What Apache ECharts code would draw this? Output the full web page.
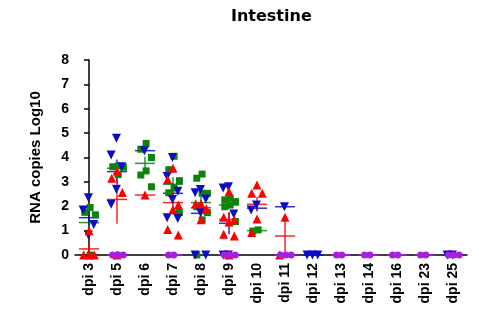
<!DOCTYPE html>
<html>
<head>
<meta charset="utf-8">
<script src="https://cdn.jsdelivr.net/npm/echarts@6/dist/echarts.min.js"></script>
<style>
  html, body { margin: 0; padding: 0; background: #fff; }
  #main { width: 479px; height: 314px; }
</style>
</head>
<body>
<div id="main"></div>
<script>
var categories = ['dpi 3', 'dpi 5', 'dpi 6', 'dpi 7', 'dpi 8', 'dpi 9', 'dpi 10', 'dpi 11', 'dpi 12', 'dpi 13', 'dpi 14', 'dpi 16', 'dpi 23', 'dpi 25'];
var yTicks = [0, 1, 2, 3, 4, 5, 6, 7, 8];

// individual values, one list per category
var redPoints = [[1.0, 0, 0, 0], [3.45, 3.15, 2.56, 0], [2.46], [3.56, 3.1, 2.05, 1.87, 1.05, 0.82], [2.1, 2.1, 1.9, 1.45], [2.6, 1.55, 1.45, 1.35, 0.85, 0.78, 0], [2.87, 2.53, 2.53, 1.48, 0.92], [1.55, 0], [], [], [], [], [], []];
var greenPoints = [[1.95, 1.75, 1.65, 0], [3.65, 3.62, 3.6, 3.3], [4.58, 4.34, 4.0, 3.45, 3.28, 2.8], [4.05, 3.5, 3.05, 2.75, 2.55, 1.74], [3.32, 3.15, 2.53, 2.53, 1.98, 1.74, 1.44, 0], [2.33, 2.26, 2.19, 2.05, 1.98, 1.37], [1.03, 0.98], [], [], [], [], [], [], []];
var bluePoints = [[2.35, 1.85, 1.25, 0.82], [4.79, 4.1, 3.62, 2.7, 2.08], [4.28], [4.0, 3.22, 2.62, 2.28, 1.53, 1.5], [2.69, 2.55, 2.3, 1.74, 0, 0], [2.8, 2.75, 1.68, 0, 0], [2.05, 1.85], [1.98], [0, 0, 0], [], [], [], [], [0, 0]];
var purplePoints = [[], [0, 0, 0, 0], [], [0, 0], [], [0, 0, 0], [], [0, 0, 0], [], [0, 0], [0, 0], [0, 0], [0, 0], [0, 0, 0]];

// mean and error bar half-length per category (null = no group)
var redMean = [0.25, 2.28, 2.46, 2.15, 1.94, 1.46, 2.08, 0.78, null, null, null, null, null, null];
var redErr = [0.25, 1.0, 0, 0.5, 0.15, 0.3, 0.3, 0.78, 0, 0, 0, 0, 0, 0];
var greenMean = [1.33, 3.56, 3.76, 2.9, 2.15, 2.05, 1.0, null, null, null, null, null, null, null];
var greenErr = [0.45, 0.1, 0.27, 0.3, 0.35, 0.15, 0.03, 0, 0, 0, 0, 0, 0, 0];
var blueMean = [1.53, 3.42, 4.28, 2.53, 1.71, 1.3, 1.92, 1.98, 0, null, null, null, null, 0];
var blueErr = [0.3, 0.5, 0, 0.4, 0.4, 0.45, 0.1, 0, 0, 0, 0, 0, 0, 0];
var purpleMean = [null, 0, null, 0, null, 0, null, 0, null, 0, 0, 0, 0, 0];
var purpleErr = [0, 0, 0, 0, 0, 0, 0, 0, 0, 0, 0, 0, 0, 0];

var RED = '#ff0000', GREEN = '#0a850a', BLUE = '#0c0cc4', PURPLE = '#a81fe0';

// spread points of one category in three little columns
function spread(points, shift) {
    var out = [];
    points.forEach(function (vals, i) {
        vals.forEach(function (v, k) {
            var col = [0, -1, 1][k % 3];
            out.push([i + col * 0.19 + shift, v]);
        });
    });
    return out;
}

function meanData(mean, err) {
    var out = [];
    mean.forEach(function (m, i) {
        if (m !== null) out.push([i, m, err[i]]);
    });
    return out;
}

function meanSeries(mean, err, color) {
    return {
        type: 'custom',
        xAxisIndex: 1,
        clip: false,
        silent: true,
        z: 3,
        data: meanData(mean, err),
        renderItem: function (params, api) {
            var x = api.value(0), m = api.value(1), e = api.value(2);
            var l = api.coord([x - 0.36, m]), r = api.coord([x + 0.36, m]);
            var t = api.coord([x, m + e]), b = api.coord([x, m - e]);
            var st = { stroke: color, lineWidth: 1.5, opacity: 0.85 };
            return {
                type: 'group',
                children: [
                    { type: 'line', shape: { x1: l[0], y1: l[1], x2: r[0], y2: r[1] }, style: st },
                    { type: 'line', shape: { x1: t[0], y1: t[1], x2: b[0], y2: b[1] }, style: st }
                ]
            };
        }
    };
}

function pointSeries(data, symbol, size, color, rotate) {
    return {
        type: 'scatter',
        xAxisIndex: 1,
        symbol: symbol,
        symbolSize: size,
        symbolRotate: rotate || 0,
        itemStyle: { color: color, opacity: 1 },
        z: 4,
        data: data
    };
}

var chart = echarts.init(document.getElementById('main'));
chart.setOption({
    animation: false,
    title: {
        text: 'Intestine',
        left: 226,
        top: 4,
        textStyle: { fontFamily: 'DejaVu Sans', fontWeight: 'bold', fontSize: 16, color: '#000' }
    },
    grid: { left: 75, right: 12, top: 60, bottom: 59 },
    xAxis: [{
        type: 'category',
        data: categories,
        boundaryGap: true,
        axisLine: { lineStyle: { color: '#000', width: 1.5 } },
        axisTick: { alignWithLabel: true, length: 5, lineStyle: { color: '#000', width: 1.5 } },
        axisLabel: {
            rotate: 90,
            margin: 8,
            color: '#000',
            fontFamily: 'Liberation Sans',
            fontWeight: 'bold',
            fontSize: 14
        }
    }, {
        type: 'value',
        min: -0.5,
        max: 13.5,
        show: false
    }],
    yAxis: {
        type: 'value',
        min: yTicks[0],
        max: yTicks[yTicks.length - 1],
        interval: 1,
        name: 'RNA copies Log10',
        nameLocation: 'middle',
        nameGap: 32,
        nameTextStyle: { fontFamily: 'Liberation Sans', fontWeight: 'bold', fontSize: 15, color: '#000' },
        axisLine: { show: true, lineStyle: { color: '#000', width: 1.5 } },
        axisTick: { show: true, length: 5, lineStyle: { color: '#000', width: 1.5 } },
        splitLine: { show: false },
        axisLabel: {
            margin: 6,
            color: '#000',
            fontFamily: 'Liberation Sans',
            fontWeight: 'bold',
            fontSize: 14
        }
    },
    series: [
        meanSeries(purpleMean, purpleErr, PURPLE),
        meanSeries(greenMean, greenErr, GREEN),
        meanSeries(blueMean, blueErr, BLUE),
        meanSeries(redMean, redErr, RED),
        pointSeries(spread(greenPoints, 0.04), 'rect', 7, GREEN),
        pointSeries(spread(bluePoints, -0.02), 'triangle', 9, BLUE, 180),
        pointSeries(spread(redPoints, 0), 'triangle', 9, RED),
        pointSeries(spread(purplePoints, 0.03), 'circle', 7, PURPLE)
    ]
});
</script>
</body>
</html>
